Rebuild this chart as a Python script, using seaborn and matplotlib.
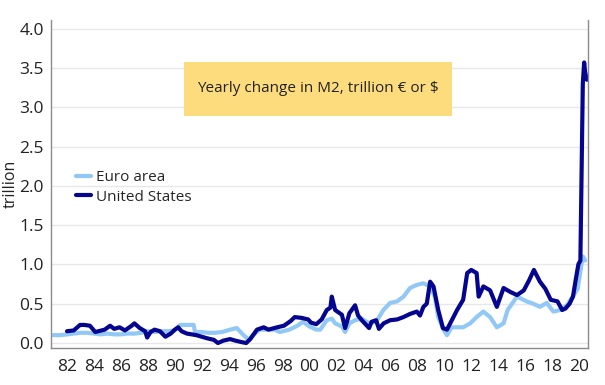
import pandas as pd
import matplotlib.pyplot as plt
import seaborn as sns
from matplotlib.patches import Rectangle

# Yearly change in M2 (trillion)
euro_years = [1981.0, 1981.5, 1982.0, 1982.5, 1983.0, 1983.5, 1984.0, 1984.5, 1985.0, 1985.5,
              1986.0, 1986.5, 1987.0, 1987.5, 1988.0, 1988.5, 1989.0, 1989.5, 1990.0, 1990.4,
              1990.9, 1991.4, 1991.5, 1992.0, 1992.5, 1993.0, 1993.5, 1994.1, 1994.6, 1995.1,
              1995.5, 1995.8, 1996.3, 1996.8, 1997.4, 1997.8, 1998.5, 1999.1, 1999.5, 2000.0,
              2000.5, 2000.8, 2001.28, 2001.65, 2001.9, 2002.4, 2002.64, 2002.96, 2003.38, 2003.88,
              2004.42, 2004.94, 2005.48, 2005.98, 2006.5, 2006.97, 2007.46, 2007.96, 2008.45, 2008.95,
              2009.3, 2009.55, 2009.94, 2010.2, 2010.55, 2010.93, 2011.4, 2011.92, 2012.4, 2012.9,
              2013.4, 2013.9, 2014.4, 2014.7, 2015.4, 2016.1, 2016.6, 2017.1, 2017.6, 2018.1,
              2018.6, 2019.1, 2019.6, 2019.9, 2020.2, 2020.3, 2020.45]
euro_values = [0.10, 0.10, 0.11, 0.12, 0.13, 0.13, 0.12, 0.11, 0.12, 0.11,
               0.11, 0.12, 0.12, 0.13, 0.15, 0.14, 0.15, 0.15, 0.16, 0.23,
               0.23, 0.23, 0.14, 0.14, 0.13, 0.13, 0.14, 0.17, 0.19, 0.10,
               0.04, 0.10, 0.17, 0.17, 0.17, 0.14, 0.17, 0.22, 0.27, 0.21,
               0.17, 0.17, 0.29, 0.31, 0.25, 0.21, 0.14, 0.25, 0.29, 0.31,
               0.25, 0.27, 0.42, 0.51, 0.53, 0.59, 0.70, 0.74, 0.76, 0.72,
               0.59, 0.33, 0.17, 0.10, 0.20, 0.20, 0.20, 0.25, 0.33, 0.40,
               0.33, 0.20, 0.25, 0.42, 0.59, 0.53, 0.50, 0.46, 0.51, 0.40,
               0.42, 0.48, 0.61, 0.69, 1.02, 1.10, 1.05]

us_years = [1982.0, 1982.5, 1982.97, 1983.3, 1983.7, 1984.1, 1984.8, 1985.2, 1985.5, 1985.9,
            1986.3, 1986.8, 1987.0, 1987.4, 1987.8, 1987.95, 1988.2, 1988.5, 1988.9, 1989.3,
            1989.7, 1990.0, 1990.25, 1990.5, 1990.9, 1991.6, 1992.4, 1992.9, 1993.2, 1993.6,
            1994.1, 1994.5, 1995.0, 1995.3, 1995.6, 1996.1, 1996.6, 1996.95, 1997.6, 1998.1,
            1998.6, 1998.9, 1999.4, 1999.9, 2000.1, 2000.5, 2000.9, 2001.28, 2001.55, 2001.65,
            2001.9, 2002.4, 2002.64, 2002.96, 2003.38, 2003.6, 2003.88, 2004.42, 2004.6, 2004.94,
            2005.15, 2005.5, 2005.98, 2006.5, 2006.97, 2007.46, 2007.96, 2008.2, 2008.45, 2008.7,
            2008.95, 2009.2, 2009.55, 2009.9, 2010.2, 2010.95, 2011.4, 2011.7, 2012.0, 2012.4,
            2012.55, 2012.9, 2013.4, 2013.9, 2014.4, 2014.9, 2015.4, 2015.9, 2016.3, 2016.65,
            2017.1, 2017.5, 2017.9, 2018.4, 2018.75, 2019.0, 2019.3, 2019.55, 2019.75, 2019.95,
            2020.1, 2020.28, 2020.38, 2020.45, 2020.58]
us_values = [0.15, 0.16, 0.23, 0.23, 0.22, 0.14, 0.17, 0.22, 0.18, 0.20,
             0.16, 0.22, 0.25, 0.19, 0.15, 0.07, 0.14, 0.17, 0.15, 0.08,
             0.12, 0.17, 0.20, 0.15, 0.12, 0.10, 0.06, 0.04, 0.00, 0.03,
             0.05, 0.03, 0.01, 0.00, 0.05, 0.17, 0.20, 0.17, 0.20, 0.22,
             0.28, 0.33, 0.32, 0.30, 0.26, 0.24, 0.30, 0.42, 0.45, 0.59,
             0.42, 0.36, 0.19, 0.38, 0.48, 0.35, 0.29, 0.19, 0.27, 0.29,
             0.18, 0.25, 0.29, 0.30, 0.33, 0.37, 0.40, 0.35, 0.46, 0.50,
             0.78, 0.72, 0.42, 0.19, 0.17, 0.42, 0.55, 0.89, 0.93, 0.89,
             0.59, 0.72, 0.67, 0.46, 0.70, 0.65, 0.61, 0.67, 0.80, 0.93,
             0.78, 0.69, 0.55, 0.53, 0.42, 0.44, 0.50, 0.59, 0.80, 1.00,
             1.05, 3.30, 3.57, 3.45, 3.35]

x_ticks = list(range(1982, 2021, 2))
x_tick_labels = [f"{y % 100:02d}" for y in x_ticks]
y_ticks = [0.0, 0.5, 1.0, 1.5, 2.0, 2.5, 3.0, 3.5, 4.0]

df_euro = pd.DataFrame({"year": euro_years, "value": euro_values})
df_us = pd.DataFrame({"year": us_years, "value": us_values})

sns.set_style("white")
plt.rcParams["font.family"] = ["Open Sans", "DejaVu Sans"]

fig = plt.figure(figsize=(6.05, 3.85), dpi=100)
ax = fig.add_axes([0.084, 0.096, 0.888, 0.852])

sns.lineplot(data=df_euro, x="year", y="value", ax=ax, color="#92c8f6",
             linewidth=3, estimator=None, sort=False, label="Euro area")
sns.lineplot(data=df_us, x="year", y="value", ax=ax, color="#05058f",
             linewidth=3, estimator=None, sort=False, label="United States")

ax.set_xlim(1980.8, 2020.67)
ax.set_ylim(-0.064, 4.11)
ax.set_xticks(x_ticks)
ax.set_xticklabels(x_tick_labels)
ax.set_yticks(y_ticks)
ax.set_yticklabels([f"{v:.1f}" for v in y_ticks])
ax.set_xlabel("")
ax.set_ylabel("trillion", fontsize=11.5, color="#222222")
ax.yaxis.set_label_coords(-0.06, 0.5)

ax.grid(axis="y", color="#e8e8e8", linewidth=1)
ax.set_axisbelow(True)
ax.spines["top"].set_visible(False)
for side in ["left", "bottom", "right"]:
    ax.spines[side].set_color("#8a8a8a")
    ax.spines[side].set_linewidth(1)
ax.tick_params(axis="both", which="both", direction="out", length=3, width=1,
               color="#8a8a8a", labelsize=12.5, labelcolor="#222222", pad=2)
ax.tick_params(axis="x", pad=5)

leg = ax.legend(loc="upper left", bbox_to_anchor=(0.113, 0.578), bbox_transform=fig.transFigure,
                frameon=False, fontsize=11, handlelength=1.0, handletextpad=0.3,
                labelspacing=0.3, borderpad=0)
for line in leg.get_lines():
    line.set_linewidth(3)

# Yellow title box
fig.patches.append(Rectangle((0.304, 0.699), 0.443, 0.141, transform=fig.transFigure,
                             facecolor="#fddc7e", edgecolor="none", zorder=5))
fig.text(0.526, 0.77, "Yearly change in M2, trillion € or $", ha="center", va="center",
         fontsize=11, color="#222222", zorder=6)

fig.savefig("out.png", dpi=100)
